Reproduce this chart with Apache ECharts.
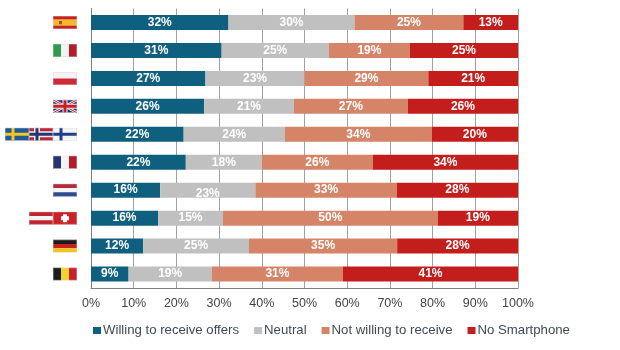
<!DOCTYPE html>
<html>
	<head>
		<meta charset="utf-8">
		<title></title>
		<script src="https://cdn.jsdelivr.net/npm/echarts@6/dist/echarts.min.js"></script>
		<style>
			html, body { margin: 0; padding: 0; background: #fff; }
		</style>
	</head>
	<body>
		<div id="main" style="width: 620px;height:350px;"></div>
		<script>
			var categories = ['Spain', 'Italy', 'Poland', 'UK', 'Nordics', 'France', 'Netherlands', 'Austria/Switzerland', 'Germany', 'Belgium'];
			var seriesNames = ['Willing to receive offers', 'Neutral', 'Not willing to receive', 'No Smartphone'];

			// segment widths as measured on the picture
			var willing = [32.2, 30.6, 26.8, 26.5, 21.7, 22.2, 16.2, 15.7, 12.2, 8.8];
			var neutral = [29.5, 25.1, 23.2, 21, 23.7, 17.8, 22.3, 15.2, 24.8, 19.5];
			var notWilling = [25.5, 19, 29, 26.7, 34.4, 26, 33.1, 50.3, 34.7, 30.7];
			var noSmartphone = [12.8, 25.3, 21, 25.8, 20.2, 34, 28.4, 18.8, 28.3, 41];

			// percentages as printed on the bars
			var willingLabels = [32, 31, 27, 26, 22, 22, 16, 16, 12, 9];
			var neutralLabels = [30, 25, 23, 21, 24, 18, 23, 15, 25, 19];
			var notWillingLabels = [25, 19, 29, 27, 34, 26, 33, 50, 35, 31];
			var noSmartphoneLabels = [13, 25, 21, 26, 20, 34, 28, 19, 28, 41];

			var flagTokens = ['{es|}', '{it|}', '{pl|}', '{gb|}', '{se|}{no|}{fi|}', '{fr|}', '{nl|}', '{at|}{ch|}', '{de|}', '{be|}'];

			var colors = ['#0f5f7f', '#c0c0c0', '#d58468', '#c41e1c'];

			function hBands(a, b, c) {
				return '<rect width="24" height="4.4" fill="' + a + '"/><rect y="4.4" width="24" height="4.2" fill="' + b + '"/><rect y="8.6" width="24" height="4.4" fill="' + c + '"/>';
			}
			function vBands(a, b, c) {
				return '<rect width="8" height="13" fill="' + a + '"/><rect x="8" width="8" height="13" fill="' + b + '"/><rect x="16" width="8" height="13" fill="' + c + '"/>';
			}
			function cross(bg, c1, c2) {
				var s = '<rect width="24" height="13" fill="' + bg + '"/>';
				if (c2) s += '<rect x="5" width="6" height="13" fill="' + c2 + '"/><rect y="3.5" width="24" height="6" fill="' + c2 + '"/>';
				s += '<rect x="6.5" width="3" height="13" fill="' + c1 + '"/><rect y="5" width="24" height="3" fill="' + c1 + '"/>';
				return s;
			}
			var flagSvg = {
				es: '<rect width="24" height="13" fill="#c8202a"/><rect y="3.2" width="24" height="6.6" fill="#f2b92c"/><rect x="6" y="5" width="3" height="3.2" fill="#a5502a"/>',
				it: vBands('#2f9a4c', '#f4f4f4', '#b51c2b'),
				pl: '<rect width="24" height="6.5" fill="#f4f4f4"/><rect y="6.5" width="24" height="6.5" fill="#cf2a35"/>',
				gb: '<rect width="24" height="13" fill="#27346f"/><path d="M0 0L24 13M24 0L0 13" stroke="#eee" stroke-width="2.6"/><path d="M0 0L24 13M24 0L0 13" stroke="#c8202a" stroke-width="1"/><rect x="9.5" width="5" height="13" fill="#eee"/><rect y="4" width="24" height="5" fill="#eee"/><rect x="10.5" width="3" height="13" fill="#c8202a"/><rect y="5" width="24" height="3" fill="#c8202a"/>',
				se: cross('#1e5a9c', '#f2c81e'),
				no: cross('#b8283a', '#27346f', '#eee'),
				fi: cross('#f4f4f4', '#1f3f8c'),
				fr: vBands('#27346f', '#f4f4f4', '#b51c2b'),
				nl: hBands('#b52b3a', '#f4f4f4', '#2c4a8c'),
				at: hBands('#c0242f', '#f4f4f4', '#c0242f'),
				ch: '<rect width="24" height="13" fill="#cc2127"/><rect x="10" y="2.5" width="4" height="8" fill="#fff"/><rect x="8" y="4.5" width="8" height="4" fill="#fff"/>',
				de: hBands('#1c1c1c', '#c8201e', '#f2c41c'),
				be: vBands('#1c1c1c', '#f2d22c', '#c8202e')
			};

			var richFlags = {};
			Object.keys(flagSvg).forEach(function(code) {
				var outline = '<rect x="0.25" y="0.25" width="23.5" height="12.5" fill="none" stroke="#d0d0d0" stroke-width="0.5"/>';
				var svg = '<svg xmlns="http://www.w3.org/2000/svg" width="24" height="13" viewBox="0 0 24 13">' + flagSvg[code] + outline + '</svg>';
				richFlags[code] = {
					width: 24,
					height: 13,
					backgroundColor: {
						image: 'data:image/svg+xml;charset=utf-8,' + encodeURIComponent(svg)
					}
				};
			});

			function makeSeries(index, values, labels) {
				return {
					name: seriesNames[index],
					type: 'bar',
					stack: 'total',
					barWidth: 15,
					itemStyle: {
						color: colors[index]
					},
					data: values.map(function(v, i) {
						var item = {
							value: v,
							label: {
								formatter: labels[i] + '%'
							}
						};
						// the Netherlands neutral label sits low in the original
						if (index === 1 && categories[i] === 'Netherlands') {
							item.label.offset = [0, 4];
						}
						return item;
					}),
					label: {
						show: true,
						position: 'inside',
						color: '#fff',
						fontFamily: 'Liberation Sans',
						fontWeight: 'bold',
						fontSize: 12
					}
				};
			}

			var myChart = echarts.init(document.getElementById('main'));

			var option = {
				backgroundColor: '#fff',
				animation: false,
				grid: {
					left: 91,
					right: 102,
					top: 8.5,
					height: 279.5
				},
				legend: {
					data: seriesNames,
					left: 88,
					top: 319,
					itemWidth: 8,
					itemHeight: 7,
					itemGap: 15,
					icon: 'rect',
					textStyle: {
						color: '#3f4a55',
						fontFamily: 'Liberation Sans',
						fontSize: 13.2,
						padding: [0, 0, 0, -3]
					}
				},
				xAxis: {
					type: 'value',
					min: 0,
					max: 100,
					interval: 10,
					axisLine: {
						show: true,
						lineStyle: {
							color: '#808080',
							width: 1
						}
					},
					axisTick: {
						show: false
					},
					splitLine: {
						show: true,
						lineStyle: {
							color: '#a0a0a0',
							width: 1
						}
					},
					axisLabel: {
						formatter: '{value}%',
						color: '#444',
						fontFamily: 'Liberation Sans',
						fontSize: 12.5,
						margin: 9
					}
				},
				yAxis: {
					type: 'category',
					inverse: true,
					data: categories,
					axisLine: {
						show: true,
						lineStyle: {
							color: '#808080',
							width: 1
						}
					},
					axisTick: {
						show: false
					},
					axisLabel: {
						margin: 14,
						formatter: function(value, i) {
							return flagTokens[i];
						},
						rich: richFlags
					}
				},
				series: [
					makeSeries(0, willing, willingLabels),
					makeSeries(1, neutral, neutralLabels),
					makeSeries(2, notWilling, notWillingLabels),
					makeSeries(3, noSmartphone, noSmartphoneLabels)
				]
			};

			myChart.setOption(option);
		</script>
	</body>
</html>
